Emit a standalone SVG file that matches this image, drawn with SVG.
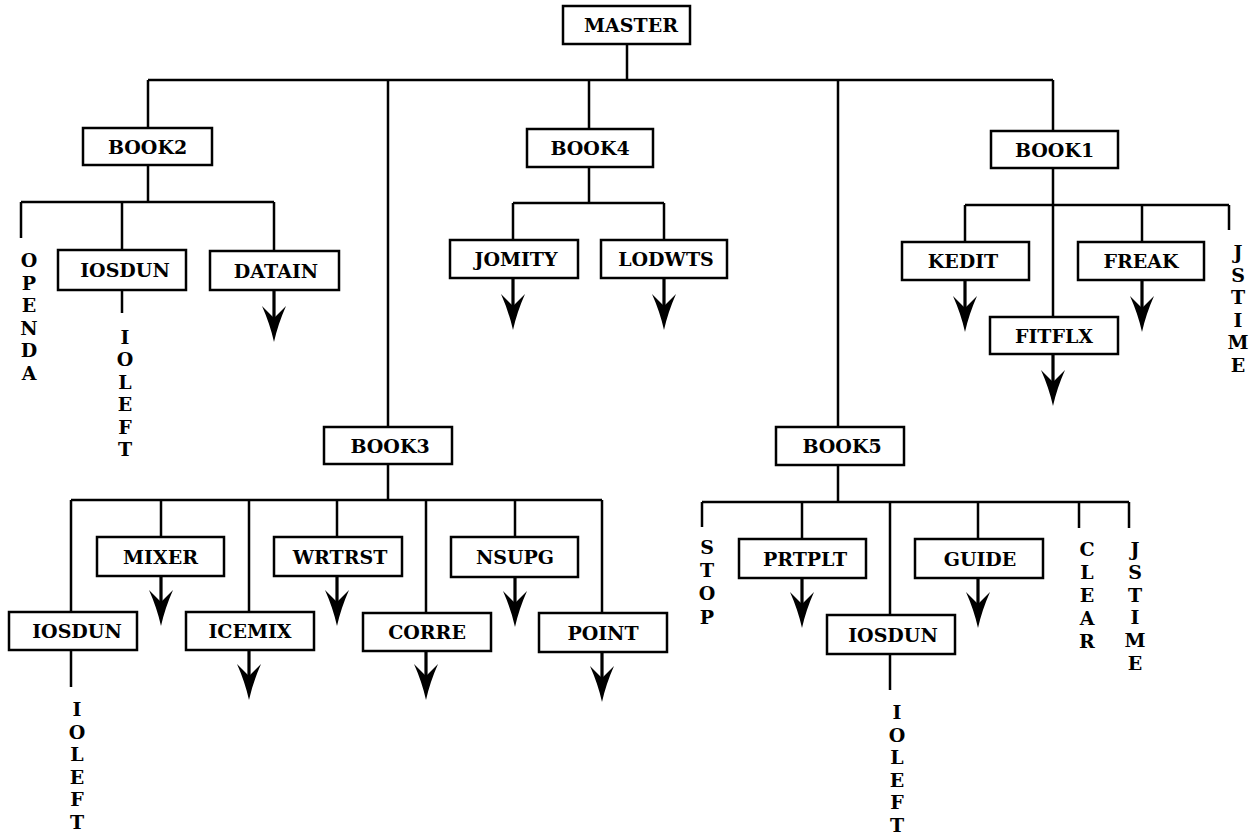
<svg xmlns="http://www.w3.org/2000/svg" xmlns:xlink="http://www.w3.org/1999/xlink" width="1255" height="836" viewBox="0 0 1255 836">
<style>
.box{fill:#fff;stroke:#000;stroke-width:2.5}
.lbl{font-family:"DejaVu Serif","Liberation Serif",serif;font-weight:bold;font-size:19px;fill:#000;text-anchor:middle}
.vl{font-family:"DejaVu Serif","Liberation Serif",serif;font-weight:bold;font-size:19px;fill:#000;text-anchor:middle}
.ln{stroke:#000;stroke-width:2.5;fill:none}
.sh{stroke:#000;stroke-width:3.2;fill:none}
</style>
<defs>
<path id="ah" d="M0,0 Q-4,-18 -12,-36 L0,-24 L12,-36 Q4,-18 0,0 Z" fill="#000"/>
</defs>
<rect width="1255" height="836" fill="#fff"/>
<g id="connectors">
<path class="ln" d="M627,44V80M148,80H1053M148,80V128M388,80V427M589,80V129M838,80V427M1053,80V131"/>
<path class="ln" d="M148,165V202M21,202H274M21,202V238M122,202V250M274,202V251M122,290V313"/>
<path class="ln" d="M589,167V203M513,203H664M513,203V240M664,203V240"/>
<path class="ln" d="M1053,168V317M965,205H1229M965,205V242M1142,205V242M1229,205V230"/>
<path class="ln" d="M388,464V500M71,500H602M71,500V612M161,500V537M249,500V612M337,500V537M426,500V613M515,500V537M602,500V613M71,650V687"/>
<path class="ln" d="M838,465V502M702,502H1129M702,502V527M802,502V539M890,502V615M978,502V539M1079,502V528M1129,502V528M890,654V690"/>
<path class="sh" d="M274,290V320M513,278V308M664,278V308M965,280V310M1142,280V310M1053,354V384M161,576V604M337,576V604M515,577V605M249,650V678M426,651V678M602,652V680M802,578V606M978,578V606"/>
<use xlink:href="#ah" x="274" y="342"/>
<use xlink:href="#ah" x="513" y="330"/>
<use xlink:href="#ah" x="664" y="330"/>
<use xlink:href="#ah" x="965" y="332"/>
<use xlink:href="#ah" x="1142" y="332"/>
<use xlink:href="#ah" x="1053" y="406"/>
<use xlink:href="#ah" x="161" y="626"/>
<use xlink:href="#ah" x="337" y="626"/>
<use xlink:href="#ah" x="515" y="627"/>
<use xlink:href="#ah" x="249" y="700"/>
<use xlink:href="#ah" x="426" y="700"/>
<use xlink:href="#ah" x="602" y="702"/>
<use xlink:href="#ah" x="802" y="628"/>
<use xlink:href="#ah" x="978" y="628"/>
</g>
<g id="n-master"><rect class="box" x="563" y="6" width="127" height="38"/><text class="lbl" x="631" y="32">MASTER</text></g>
<g id="n-book2"><rect class="box" x="83" y="128" width="129" height="37"/><text class="lbl" x="147.5" y="153.5">BOOK2</text></g>
<g id="n-book4"><rect class="box" x="527" y="129" width="126" height="38"/><text class="lbl" x="590" y="155">BOOK4</text></g>
<g id="n-book1"><rect class="box" x="991" y="131" width="127" height="37"/><text class="lbl" x="1054.5" y="156.5">BOOK1</text></g>
<g id="n-iosdun1"><rect class="box" x="58" y="250" width="128" height="40"/><text class="lbl" x="125" y="277">IOSDUN</text></g>
<g id="n-datain"><rect class="box" x="210" y="251" width="129" height="39"/><text class="lbl" x="276" y="277.5">DATAIN</text></g>
<g id="n-jomity"><rect class="box" x="450" y="240" width="128" height="38"/><text class="lbl" x="516" y="266">JOMITY</text></g>
<g id="n-lodwts"><rect class="box" x="601" y="240" width="126" height="38"/><text class="lbl" x="666" y="266">LODWTS</text></g>
<g id="n-kedit"><rect class="box" x="902" y="242" width="127" height="38"/><text class="lbl" x="963" y="268">KEDIT</text></g>
<g id="n-freak"><rect class="box" x="1078" y="242" width="126" height="38"/><text class="lbl" x="1141" y="268">FREAK</text></g>
<g id="n-fitflx"><rect class="box" x="990" y="317" width="128" height="37"/><text class="lbl" x="1054" y="342.5">FITFLX</text></g>
<g id="n-book3"><rect class="box" x="324" y="427" width="128" height="37"/><text class="lbl" x="390" y="452.5">BOOK3</text></g>
<g id="n-book5"><rect class="box" x="776" y="427" width="128" height="38"/><text class="lbl" x="842" y="453">BOOK5</text></g>
<g id="n-mixer"><rect class="box" x="97" y="537" width="127" height="39"/><text class="lbl" x="160.5" y="563.5">MIXER</text></g>
<g id="n-wrtrst"><rect class="box" x="274" y="537" width="128" height="39"/><text class="lbl" x="340" y="563.5">WRTRST</text></g>
<g id="n-nsupg"><rect class="box" x="451" y="537" width="127" height="40"/><text class="lbl" x="515" y="564">NSUPG</text></g>
<g id="n-iosdun2"><rect class="box" x="9" y="612" width="128" height="38"/><text class="lbl" x="77" y="638">IOSDUN</text></g>
<g id="n-icemix"><rect class="box" x="186" y="612" width="128" height="38"/><text class="lbl" x="250" y="638">ICEMIX</text></g>
<g id="n-corre"><rect class="box" x="363" y="613" width="128" height="38"/><text class="lbl" x="427" y="639">CORRE</text></g>
<g id="n-point"><rect class="box" x="539" y="613" width="128" height="39"/><text class="lbl" x="603" y="639.5">POINT</text></g>
<g id="n-prtplt"><rect class="box" x="739" y="539" width="127" height="39"/><text class="lbl" x="805" y="565.5">PRTPLT</text></g>
<g id="n-guide"><rect class="box" x="915" y="539" width="128" height="39"/><text class="lbl" x="980" y="565.5">GUIDE</text></g>
<g id="n-iosdun3"><rect class="box" x="827" y="615" width="128" height="39"/><text class="lbl" x="893" y="641.5">IOSDUN</text></g>
<g id="n-openda"><text class="vl" x="29" y="267"><tspan x="29">O</tspan><tspan x="29" dy="22.6">P</tspan><tspan x="29" dy="22.6">E</tspan><tspan x="29" dy="22.6">N</tspan><tspan x="29" dy="22.6">D</tspan><tspan x="29" dy="22.6">A</tspan></text></g>
<g id="n-ioleft1"><text class="vl" x="125" y="344"><tspan x="125">I</tspan><tspan x="125" dy="22.4">O</tspan><tspan x="125" dy="22.4">L</tspan><tspan x="125" dy="22.4">E</tspan><tspan x="125" dy="22.4">F</tspan><tspan x="125" dy="22.4">T</tspan></text></g>
<g id="n-jstime1"><text class="vl" x="1238" y="259"><tspan x="1238">J</tspan><tspan x="1238" dy="22.6">S</tspan><tspan x="1238" dy="22.6">T</tspan><tspan x="1238" dy="22.6">I</tspan><tspan x="1238" dy="22.6">M</tspan><tspan x="1238" dy="22.6">E</tspan></text></g>
<g id="n-ioleft2"><text class="vl" x="77" y="716"><tspan x="77">I</tspan><tspan x="77" dy="22.6">O</tspan><tspan x="77" dy="22.6">L</tspan><tspan x="77" dy="22.6">E</tspan><tspan x="77" dy="22.6">F</tspan><tspan x="77" dy="22.6">T</tspan></text></g>
<g id="n-stop"><text class="vl" x="707" y="554"><tspan x="707">S</tspan><tspan x="707" dy="23.2">T</tspan><tspan x="707" dy="23.2">O</tspan><tspan x="707" dy="23.2">P</tspan></text></g>
<g id="n-clear"><text class="vl" x="1087" y="556"><tspan x="1087">C</tspan><tspan x="1087" dy="23">L</tspan><tspan x="1087" dy="23">E</tspan><tspan x="1087" dy="23">A</tspan><tspan x="1087" dy="23">R</tspan></text></g>
<g id="n-jstime2"><text class="vl" x="1135" y="556"><tspan x="1135">J</tspan><tspan x="1135" dy="22.8">S</tspan><tspan x="1135" dy="22.8">T</tspan><tspan x="1135" dy="22.8">I</tspan><tspan x="1135" dy="22.8">M</tspan><tspan x="1135" dy="22.8">E</tspan></text></g>
<g id="n-ioleft3"><text class="vl" x="897" y="719"><tspan x="897">I</tspan><tspan x="897" dy="22.6">O</tspan><tspan x="897" dy="22.6">L</tspan><tspan x="897" dy="22.6">E</tspan><tspan x="897" dy="22.6">F</tspan><tspan x="897" dy="22.6">T</tspan></text></g>
</svg>
